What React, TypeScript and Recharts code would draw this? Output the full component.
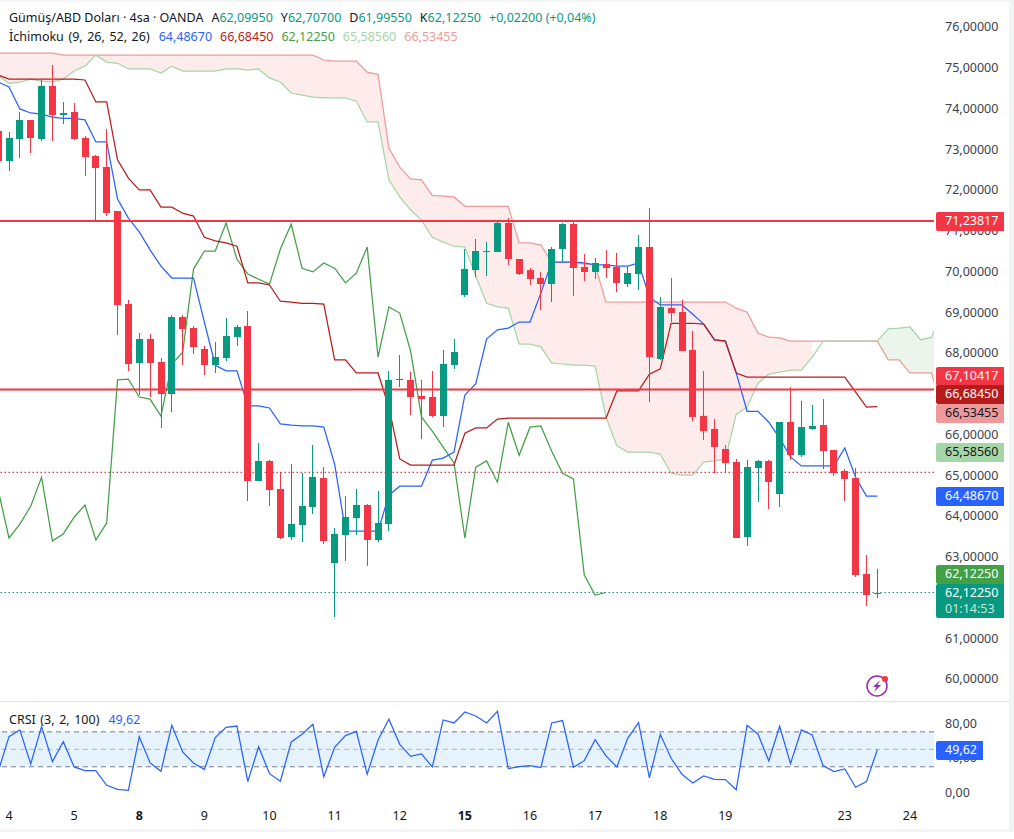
import {
  Area,
  Bar,
  ComposedChart,
  Line,
  LineChart,
  ReferenceArea,
  ReferenceLine,
  XAxis,
  YAxis,
} from "recharts";

const UP = "#089981";
const DOWN = "#f23645";
const BLUE = "#2962ff";
const DARK_RED = "#b71c1c";
const CHIKOU_GREEN = "#43a047";
const SPAN_A = "#a5d6a7";
const SPAN_B = "#ef9a9a";
const FONT = '"Noto Sans", sans-serif';
const LINE_WIDTH = 1.25;

// first bar sits just off the left edge, so indexes start at -1
const FIRST_BAR = -1;

const opens = [
  73.45, 72.71, 73.25, 73.72, 73.25, 74.55, 73.84, 73.91, 73.28, 72.83, 72.56, 71.48, 69.2, 67.75, 68.34, 67.78,
  66.99, 68.88, 68.61, 68.1, 67.7, 67.88, 68.39, 68.66, 64.86, 65.35, 64.66, 63.48, 63.78, 64.22, 64.93, 62.85,
  63.53, 63.95, 64.27, 63.41, 63.8, 67.34, 67.34, 66.94, 66.92, 66.45, 67.7, 69.42, 70.04, 70.48, 70.48, 71.19,
  70.3, 70.04, 69.84, 69.69, 70.55, 71.16, 70.11, 69.99, 70.18, 70.11, 69.69, 69.94, 70.6, 67.85, 69.1, 69.0,
  68.07, 66.45, 66.13, 65.64, 65.32, 63.48, 65.18, 65.35, 64.54, 66.3, 65.49, 66.13, 66.23, 65.62, 65.1, 64.93,
  62.57, 62.0995,
];
const highs = [
  73.52, 73.42, 73.91, 73.72, 74.7, 75.06, 74.16, 74.13, 73.33, 72.86, 73.5, 71.48, 69.3, 68.49, 68.46, 67.88,
  68.93, 68.93, 68.66, 68.17, 68.27, 68.86, 68.68, 69.03, 65.79, 65.37, 65.08, 65.28, 65.05, 65.74, 65.2, 63.71,
  64.49, 64.66, 64.29, 64.61, 67.56, 67.95, 67.53, 67.34, 67.56, 68.07, 68.34, 70.55, 70.79, 70.72, 71.21, 71.31,
  70.3, 70.08, 69.99, 70.6, 71.19, 71.21, 70.43, 70.33, 70.53, 70.45, 70.11, 70.89, 71.56, 69.37, 69.84, 69.3,
  68.54, 67.56, 66.38, 65.74, 65.4, 65.37, 65.37, 65.37, 66.31, 67.16, 66.82, 66.72, 66.87, 65.62, 65.15, 65.18,
  63.04, 62.707,
];
const lows = [
  72.44, 72.47, 72.78, 72.91, 73.2, 73.2, 73.62, 73.23, 72.34, 71.26, 71.36, 68.44, 67.56, 66.97, 66.92, 66.16,
  66.55, 67.7, 67.97, 67.46, 67.51, 67.8, 68.17, 64.37, 64.85, 64.24, 63.44, 63.41, 63.36, 64.05, 63.31, 61.52,
  62.9, 63.53, 62.77, 63.36, 63.63, 67.17, 66.48, 65.89, 66.43, 66.18, 67.61, 69.37, 69.86, 69.89, 70.47, 70.16,
  69.91, 69.67, 69.06, 69.25, 70.23, 69.4, 69.76, 69.81, 69.84, 69.49, 69.62, 69.55, 66.79, 67.84, 68.76, 68.04,
  66.33, 65.87, 65.05, 65.05, 63.45, 63.26, 64.34, 64.17, 64.22, 65.37, 65.45, 66.11, 65.15, 64.98, 64.37, 62.5,
  61.79, 61.9955,
];
const closes = [
  72.71, 73.28, 73.72, 73.28, 74.55, 73.84, 73.88, 73.25, 72.81, 72.54, 71.43, 69.18, 67.73, 68.34, 67.75, 66.99,
  68.88, 68.59, 68.15, 67.7, 67.9, 68.41, 68.64, 64.86, 65.35, 64.64, 63.46, 63.8, 64.24, 64.95, 63.39, 63.56,
  63.97, 64.27, 63.41, 63.83, 67.34, 67.36, 66.92, 66.87, 66.45, 67.73, 68.02, 70.06, 70.5, 70.5, 71.19, 70.3,
  69.94, 69.81, 69.69, 70.55, 71.16, 70.08, 69.99, 70.21, 70.08, 69.72, 69.96, 70.6, 67.9, 69.13, 68.98, 68.05,
  66.43, 66.08, 65.69, 65.3, 63.46, 65.2, 65.35, 64.83, 66.3, 65.49, 66.18, 66.21, 65.59, 65.05, 64.91, 62.55,
  62.06, 62.1225,
];

const tenkan = [
  74.65, 74.53, 73.99, 73.89, 73.86, 73.79, 73.76, 73.76, 73.72, 73.18, 73.18, 71.78, 71.31, 70.97, 70.53, 70.13,
  69.84, 69.84, 69.84, 68.76, 67.7, 67.56, 67.56, 66.7, 66.7, 66.65, 66.26, 66.23, 66.21, 66.21, 66.18, 65.27,
  63.63, 63.63, 63.63, 63.63, 64.51, 64.73, 64.73, 64.73, 65.37, 65.42, 65.57, 66.97, 67.24, 68.34, 68.57, 68.61,
  68.76, 68.76, 69.47, 70.23, 70.23, 70.23, 70.21, 70.16, 70.16, 70.13, 70.13, 70.21, 69.37, 69.18, 69.18, 69.18,
  68.95, 68.71, 68.32, 68.29, 67.51, 66.57, 66.57, 66.3, 65.91, 65.45, 65.23, 65.23, 65.23, 65.23, 65.67, 64.95,
  64.49, 64.4867,
];
const kijun = [
  74.82, 74.72, 74.72, 74.72, 74.72, 74.72, 74.72, 74.72, 74.7, 74.16, 74.16, 72.74, 72.29, 72.0, 72.0, 71.58,
  71.58, 71.43, 71.36, 70.84, 70.75, 70.7, 70.62, 69.72, 69.72, 69.67, 69.27, 69.25, 69.22, 69.22, 69.2, 67.83,
  67.83, 67.51, 67.51, 67.51, 66.67, 65.4, 65.25, 65.25, 65.25, 65.25, 65.25, 66.03, 66.16, 66.16, 66.38, 66.4,
  66.4, 66.4, 66.4, 66.4, 66.4, 66.4, 66.4, 66.4, 66.4, 67.07, 67.07, 67.07, 67.48, 67.61, 68.73, 68.73,
  68.73, 68.71, 68.32, 68.29, 67.51, 67.41, 67.41, 67.41, 67.41, 67.41, 67.41, 67.41, 67.41, 67.41, 67.41, 67.04,
  66.67, 66.6845,
];
const chikou = [
  64.64, 63.46, 63.8, 64.24, 64.95, 63.39, 63.56, 63.97, 64.27, 63.41, 63.83, 67.34, 67.36, 66.92, 66.87, 66.45,
  67.73, 68.02, 70.06, 70.5, 70.5, 71.19, 70.3, 69.94, 69.81, 69.69, 70.55, 71.16, 70.08, 69.99, 70.21, 70.08,
  69.72, 69.96, 70.6, 67.9, 69.13, 68.98, 68.05, 66.43, 66.08, 65.69, 65.3, 63.46, 65.2, 65.35, 64.83, 66.3,
  65.49, 66.18, 66.21, 65.59, 65.05, 64.91, 62.55, 62.06, 62.1225,
];
const senkouA = [
  74.8, 74.62, 74.65, 74.72, 74.67, 74.65, 74.72, 74.92, 75.04, 75.31, 75.14, 75.11, 74.97, 74.97, 74.97, 74.87,
  75.04, 74.92, 74.92, 74.92, 74.92, 74.97, 74.97, 74.94, 74.97, 74.75, 74.65, 74.38, 74.33, 74.28, 74.26, 74.26,
  74.26, 74.18, 73.67, 73.67, 72.25, 71.83, 71.51, 71.26, 70.84, 70.72, 70.62, 70.6, 69.89, 69.22, 69.13, 69.1,
  68.22, 68.22, 68.15, 67.75, 67.73, 67.7, 67.7, 67.68, 66.43, 65.72, 65.57, 65.57, 65.57, 65.52, 65.05, 65.0,
  65.0, 65.32, 65.35, 65.4, 66.5, 66.67, 67.26, 67.48, 67.53, 67.58, 67.58, 67.9, 68.29, 68.29, 68.29, 68.29,
  68.29, 68.29, 68.59, 68.61, 68.64, 68.32, 68.39, 69.06,
];
const senkouB = [
  75.36, 75.36, 75.36, 75.36, 75.36, 75.36, 75.31, 75.31, 75.31, 75.31, 75.31, 75.31, 75.31, 75.31, 75.31, 75.31,
  75.31, 75.31, 75.31, 75.31, 75.31, 75.31, 75.31, 75.31, 75.31, 75.31, 75.31, 75.31, 75.31, 75.31, 75.19, 75.16,
  75.16, 75.16, 74.89, 74.84, 73.03, 72.56, 72.27, 72.25, 71.87, 71.85, 71.83, 71.6, 71.6, 71.6, 71.6, 71.6,
  70.7, 70.7, 70.65, 70.23, 70.23, 70.23, 70.18, 70.16, 69.25, 69.25, 69.25, 69.25, 69.25, 69.25, 69.25, 69.25,
  69.25, 69.25, 69.25, 69.25, 69.1, 69.0, 68.49, 68.39, 68.37, 68.29, 68.29, 68.29, 68.29, 68.29, 68.29, 68.29,
  68.29, 68.29, 67.83, 67.83, 67.51, 67.51, 67.51, 66.53,
];
const crsi = [
  24.4, 64.5, 72.2, 33.2, 76, 35.9, 58.8, 29.8, 25.6, 25.6, 8.8, 4.2, 3.1, 64.5, 34.4, 24.8,
  77.5, 47, 34.4, 26.7, 63.4, 75.2, 76.7, 13, 53, 22.1, 13.4, 58.4, 67.2, 78.7, 18.7, 52.3,
  65.7, 70.6, 21.4, 60.7, 84.4, 55.7, 42, 44.7, 29.8, 83.6, 80.2, 92.8, 88.2, 80.2, 93.5, 27.9,
  30.2, 31.3, 29, 80.2, 82.9, 29.4, 37, 61, 42.4, 29.8, 62.6, 80.6, 17.2, 67.2, 39.7, 21.4,
  11.5, 19.5, 15.7, 15.3, 3.8, 77.5, 67.6, 36.7, 76.4, 33.6, 72.2, 66.4, 31.3, 24.4, 27.5, 6.5,
  13, 49.62,
];

const dayTicks = [0, 6, 12, 18, 24, 30, 36, 42, 48, 54, 60, 66, 77, 83];
const dayLabels = ["4", "5", "8", "9", "10", "11", "12", "15", "16", "17", "18", "19", "23", "24"];
const boldDays = ["8", "15"];
// 62 and 67 sit fully behind the price tags in the picture
const priceTicks = [60, 61, 63, 64, 65, 66, 68, 69, 70, 71, 72, 73, 74, 75, 76];
const crsiTicks = [0, 40, 80];

const LEVEL_HIGH = 71.23817;
const LEVEL_LOW = 67.10417;
const LAST_CLOSE = 62.1225;
const PREV_CLOSE = 65.07;

const X_DOMAIN = [-0.829, 85.22];

// cloud is red up to where the spans meet, green once span A is on top
const RED_CLOUD_END = 74;
const GREEN_CLOUD_START = 80;

const rows = senkouA.map((a, k) => {
  const i = k + FIRST_BAR;
  const b = senkouB[k];
  return {
    i,
    open: opens[k],
    high: highs[k],
    low: lows[k],
    close: closes[k],
    wick: highs[k] === undefined ? null : [lows[k], highs[k]],
    tenkan: tenkan[k],
    kijun: kijun[k],
    chikou: chikou[k],
    senkouA: a,
    senkouB: b,
    redCloud: i <= RED_CLOUD_END ? [a, b] : null,
    greenCloud: i >= GREEN_CLOUD_START ? [b, a] : null,
  };
});

const crsiRows = crsi.map((v, k) => ({ i: k + FIRST_BAR, crsi: v }));

const comma = (v: number, digits: number) => v.toFixed(digits).replace(".", ",");

function Candle(props: any) {
  const { x, y, width, height, payload } = props;
  if (!payload || payload.high === undefined) return null;
  const { open, high, low, close } = payload;
  const color = close >= open ? UP : DOWN;
  const perUnit = height / (high - low);
  const top = y + (high - Math.max(open, close)) * perUnit;
  const bodyHeight = Math.max(1, Math.abs(open - close) * perUnit);
  const mid = x + width / 2;
  return (
    <g shapeRendering="crispEdges">
      <rect x={Math.round(mid - 0.5)} y={y} width={1} height={height} fill={color} />
      <rect x={Math.round(mid - 3.5)} y={top} width={7} height={bodyHeight} fill={color} />
    </g>
  );
}

function DayTick(props: any) {
  const { x, y, payload } = props;
  const label = dayLabels[dayTicks.indexOf(payload.value)];
  return (
    <text
      x={x}
      y={y + 15}
      textAnchor="middle"
      fontFamily={FONT}
      fontSize={12.5}
      fontWeight={boldDays.includes(label) ? 700 : 400}
      fill="#131722"
    >
      {label}
    </text>
  );
}

function PriceTag(props: { top: number; height?: number; left?: number; width?: number; bg: string; color: string; children: any }) {
  const { top, height = 19, left = 936, width = 68, bg, color, children } = props;
  return (
    <div
      style={{
        position: "absolute",
        left,
        top,
        width,
        height,
        background: bg,
        color,
        fontSize: 12.5,
        lineHeight: "18px",
        paddingLeft: 9,
        boxSizing: "border-box",
        borderRadius: "2px 0 0 2px",
      }}
    >
      {children}
    </div>
  );
}

function Legend() {
  const val = (c: string) => ({ color: c, marginRight: 8 });
  return (
    <div
      style={{
        position: "absolute",
        left: 9,
        top: 8,
        fontSize: 12.5,
        lineHeight: "19px",
        color: "#131722",
        whiteSpace: "nowrap",
      }}
    >
      <div>
        <span style={{ marginRight: 8 }}>Gümüş/ABD Doları · 4sa · OANDA</span>
        A<span style={val(UP)}>62,09950</span>
        Y<span style={val(UP)}>62,70700</span>
        D<span style={val(UP)}>61,99550</span>
        K<span style={val(UP)}>62,12250</span>
        <span style={{ color: UP }}>+0,02200 (+0,04%)</span>
      </div>
      <div>
        <span style={{ marginRight: 9, wordSpacing: 1.3 }}>İchimoku (9, 26, 52, 26)</span>
        <span style={val(BLUE)}>64,48670</span>
        <span style={val(DARK_RED)}>66,68450</span>
        <span style={val(CHIKOU_GREEN)}>62,12250</span>
        <span style={val(SPAN_A)}>65,58560</span>
        <span style={val(SPAN_B)}>66,53455</span>
      </div>
    </div>
  );
}

function BoltBadge() {
  return (
    <svg style={{ position: "absolute", left: 864, top: 673 }} width={28} height={26}>
      <circle cx={13} cy={13} r={10} fill="#fff" stroke="#9c27b0" strokeWidth={1.5} />
      <path d="M16 7 L9 14 L12.5 14 L10 19 L17 12 L13.5 12 Z" fill="#9c27b0" />
      <circle cx={21} cy={6} r={3} fill={DOWN} />
    </svg>
  );
}

export default function App() {
  return (
    <div
      style={{
        position: "absolute",
        left: 0,
        top: 0,
        width: 1014,
        height: 839,
        background: "#fff",
        fontFamily: FONT,
        overflow: "hidden",
      }}
    >
      <div style={{ position: "absolute", left: 1009, top: 0, width: 5, height: 832, background: "#f3f4f6" }} />
      <div style={{ position: "absolute", left: 0, top: 829, width: 1014, height: 3, background: "#f3f4f6" }} />
      <div style={{ position: "absolute", left: 0, top: 0, width: 1014, height: 2, background: "#f3f4f6" }} />

      <div style={{ position: "absolute", left: 0, top: 0 }}>
        <ComposedChart width={1009} height={701} data={rows} margin={{ top: 0, right: 0, bottom: 0, left: 0 }}>
          <XAxis dataKey="i" type="number" domain={X_DOMAIN} allowDataOverflow hide />
          <YAxis
            orientation="right"
            width={75}
            domain={[59.46, 76.6626]}
            allowDataOverflow
            ticks={priceTicks}
            interval={0}
            tickFormatter={(v: number) => comma(v, 5)}
            axisLine={false}
            tickLine={false}
            tickSize={0}
            tickMargin={11}
            tick={{ fontSize: 12.5, fontFamily: FONT, fill: "#3c3f4a", textAnchor: "start" }}
          />
          <Area dataKey="redCloud" type="linear" stroke="none" fill="#fdeceb" fillOpacity={1} dot={false} activeDot={false} isAnimationActive={false} />
          <Area dataKey="greenCloud" type="linear" stroke="none" fill="#ebf5ec" fillOpacity={1} dot={false} activeDot={false} isAnimationActive={false} />
          <Line dataKey="senkouB" stroke={SPAN_B} strokeWidth={LINE_WIDTH} dot={false} isAnimationActive={false} />
          <Line dataKey="senkouA" stroke={SPAN_A} strokeWidth={LINE_WIDTH} dot={false} isAnimationActive={false} />
          <Line dataKey="chikou" stroke={CHIKOU_GREEN} strokeWidth={LINE_WIDTH} dot={false} isAnimationActive={false} />
          <Line dataKey="tenkan" stroke={BLUE} strokeWidth={LINE_WIDTH} dot={false} isAnimationActive={false} />
          <Line dataKey="kijun" stroke={DARK_RED} strokeWidth={LINE_WIDTH} dot={false} isAnimationActive={false} />
          <ReferenceLine y={PREV_CLOSE} stroke={DOWN} strokeWidth={1.2} strokeDasharray="1.5 2.5" />
          <ReferenceLine y={LAST_CLOSE} stroke={UP} strokeWidth={1.2} strokeDasharray="1.5 2.5" />
          <ReferenceLine y={LEVEL_HIGH} stroke={DOWN} strokeWidth={2} />
          <ReferenceLine y={LEVEL_LOW} stroke={DOWN} strokeWidth={2} />
          <Bar dataKey="wick" barSize={7} shape={Candle} isAnimationActive={false} zIndex={450} />
        </ComposedChart>
      </div>

      <div style={{ position: "absolute", left: 0, top: 701, width: 1009, height: 1, background: "#e0e3eb" }} />

      <div style={{ position: "absolute", left: 0, top: 702 }}>
        <LineChart width={1009} height={127} data={crsiRows} margin={{ top: 0, right: 0, bottom: 0, left: 0 }}>
          <XAxis
            dataKey="i"
            type="number"
            domain={X_DOMAIN}
            allowDataOverflow
            ticks={dayTicks}
            interval={0}
            height={26}
            axisLine={false}
            tickLine={false}
            tickSize={0}
            tick={DayTick}
          />
          <YAxis
            orientation="right"
            width={75}
            domain={[-11.5, 104.2]}
            allowDataOverflow
            ticks={crsiTicks}
            interval={0}
            tickFormatter={(v: number) => comma(v, 2)}
            axisLine={false}
            tickLine={false}
            tickSize={0}
            tickMargin={11}
            tick={{ fontSize: 12.5, fontFamily: FONT, fill: "#3c3f4a", textAnchor: "start" }}
          />
          <ReferenceArea y1={30} y2={70} fill="#e6f3fd" fillOpacity={1} stroke="none" />
          <ReferenceLine y={70} stroke="#787b86" strokeDasharray="5 4" />
          <ReferenceLine y={50} stroke="#b2b5be" strokeDasharray="5 4" />
          <ReferenceLine y={30} stroke="#787b86" strokeDasharray="5 4" />
          <Line dataKey="crsi" stroke={BLUE} strokeWidth={LINE_WIDTH} dot={false} isAnimationActive={false} />
        </LineChart>
      </div>

      <Legend />
      <div style={{ position: "absolute", left: 9, top: 711, fontSize: 12.5, lineHeight: "18px", color: "#131722", whiteSpace: "nowrap" }}>
        <span style={{ wordSpacing: 1.3 }}>CRSI (3, 2, 100)</span>
        <span style={{ color: BLUE, marginLeft: 9 }}>49,62</span>
      </div>
      <BoltBadge />

      <PriceTag top={212} bg={DOWN} color="#fff">71,23817</PriceTag>
      <PriceTag top={367} bg={DOWN} color="#fff">67,10417</PriceTag>
      <PriceTag top={385} bg={DARK_RED} color="#fff">66,68450</PriceTag>
      <PriceTag top={404} bg={SPAN_B} color="#131722">66,53455</PriceTag>
      <PriceTag top={443} bg={SPAN_A} color="#131722">65,58560</PriceTag>
      <PriceTag top={487} bg={BLUE} color="#fff">64,48670</PriceTag>
      <PriceTag top={565} bg={CHIKOU_GREEN} color="#fff">62,12250</PriceTag>
      <PriceTag top={584} height={34} bg={UP} color="#fff">
        <div style={{ lineHeight: "16px", paddingTop: 1 }}>62,12250</div>
        <div style={{ lineHeight: "15px", color: "#c4e8df" }}>01:14:53</div>
      </PriceTag>
      <PriceTag top={741} width={47} left={936} bg={BLUE} color="#fff">49,62</PriceTag>
    </div>
  );
}
